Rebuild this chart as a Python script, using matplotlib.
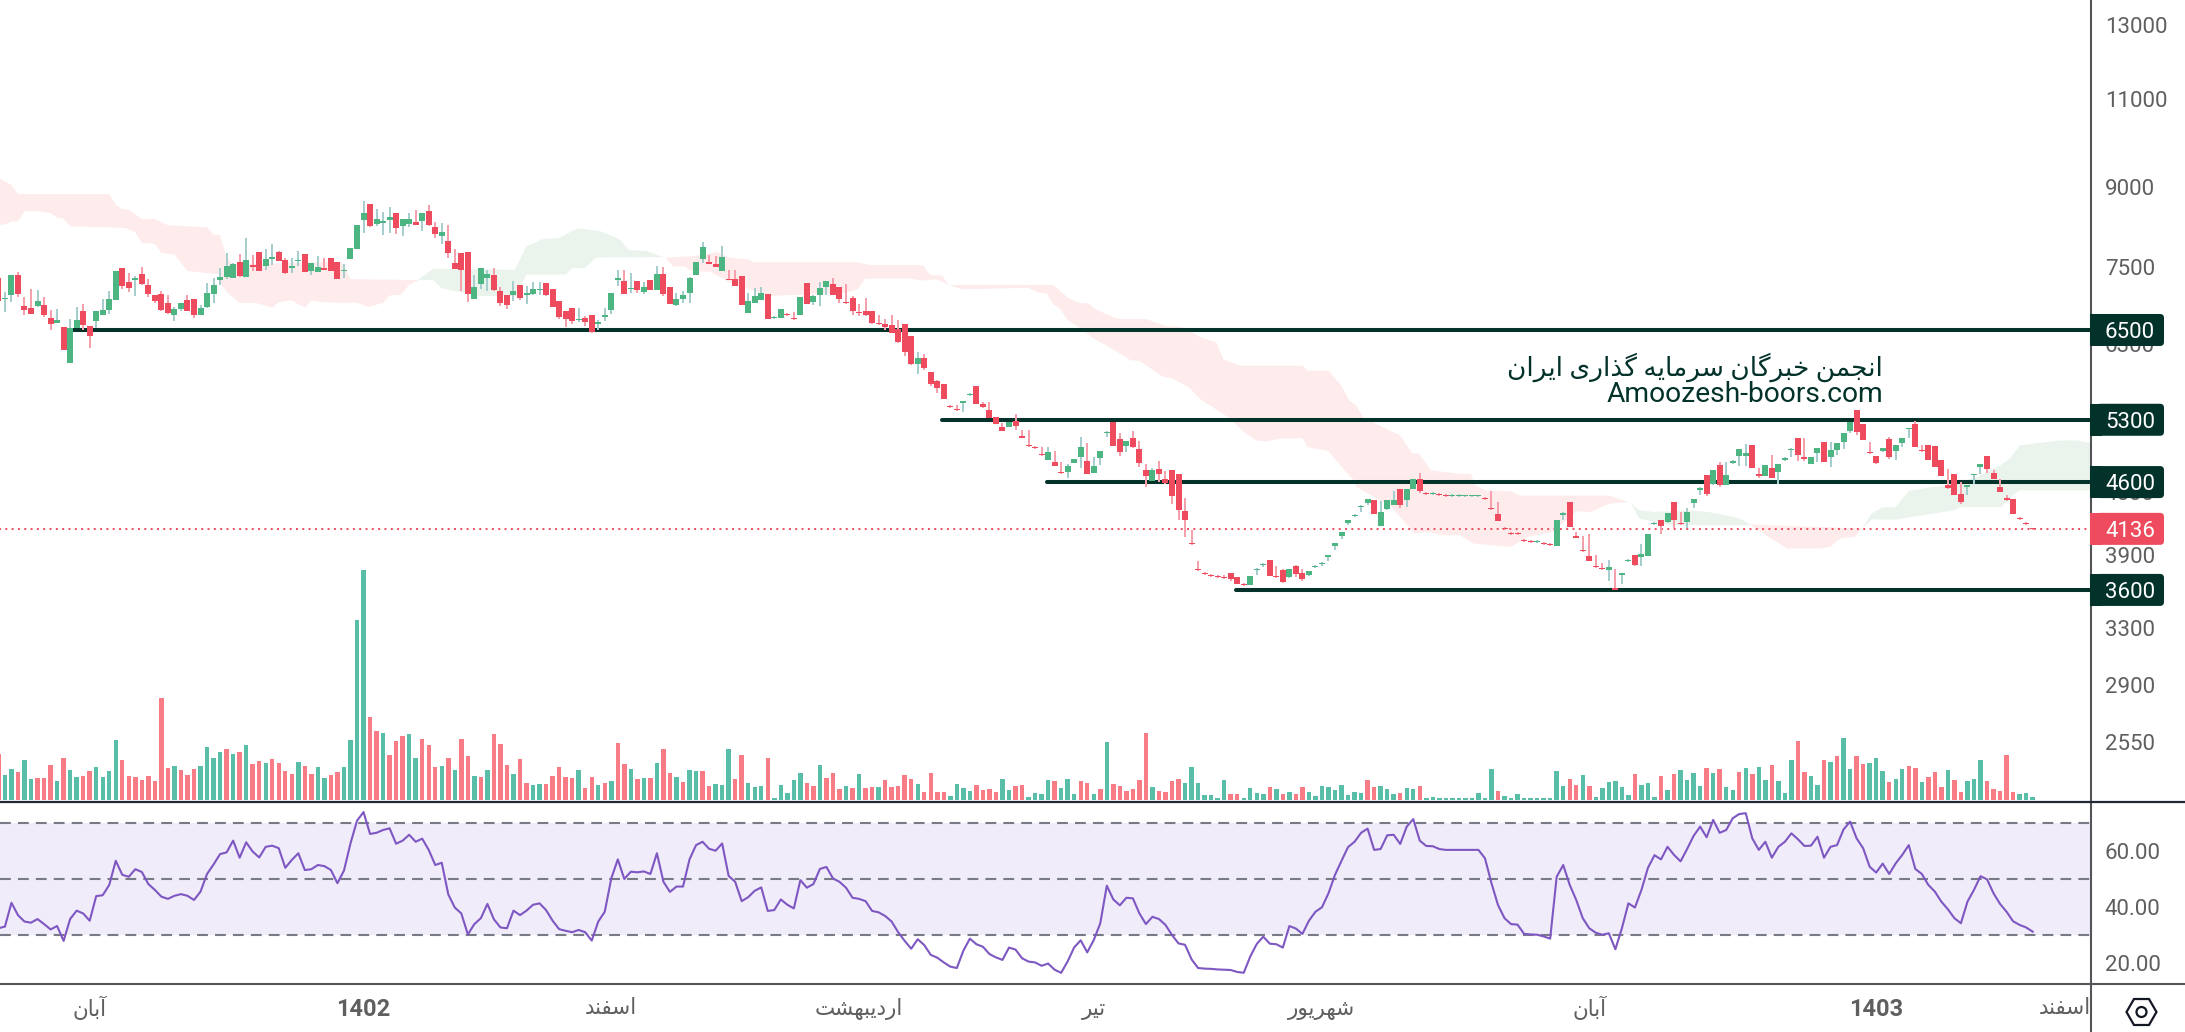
import numpy as np
import matplotlib
matplotlib.use("Agg")
import matplotlib.pyplot as plt
from matplotlib.lines import Line2D
from matplotlib.patches import FancyBboxPatch, Rectangle, RegularPolygon, Circle
from matplotlib.transforms import IdentityTransform

plt.rcParams["font.family"] = ["Roboto", "DejaVu Sans"]

W, H = 2185, 1032

# candles, one row per ten bars
opens = [
    7323, 6971, 7034, 7373, 6862, 6832, 6862, 6878, 6680, 6605,
    6546, 6030, 6531, 6786, 6561, 6635, 6726, 6801, 6955, 7490,
    7242, 7274, 7390, 7194, 7034, 7050, 6909, 6726, 6816, 6955,
    6971, 6726, 6847, 7050, 7274, 7340, 7323, 7591, 7340, 7540,
    7764, 7524, 7643, 7764, 7626, 7490, 7608, 7729, 7439, 7423,
    7490, 7660, 7591, 7439, 7643, 7817, 8342, 8648, 8267, 8286,
    8342, 8474, 8230, 8267, 8305, 8323, 8512, 8212, 8048, 7958,
    7574, 7747, 7764, 6971, 7210, 7323, 7373, 7097, 7034, 7034,
    7194, 7034, 7050, 7113, 7226, 7130, 6940, 6786, 6832, 6650,
    6680, 6726, 6590, 6695, 6801, 7274, 7258, 7130, 7258, 7082,
    7274, 7113, 7390, 7162, 6878, 6971, 7066, 7373, 7643, 7591,
    7557, 7439, 7307,
    7300, 7345, 6757, 6916, 6964, 7060, 6681, 6681, 6742, 6681,
    6727, 7235, 6932, 7043, 7171, 7220, 7171, 6932, 6995, 6772,
    6787, 6787, 6606, 6591, 6576, 6517, 6591, 6415, 6019, 6102,
    5911, 5792, 5753, 5474, 5437, 5511, 5612, 5727, 5499, 5424,
    5339, 5208, 5208, 5291, 5103, 5000, 4977, 4899, 4833, 4811,
    4703, 4703, 4800, 4866, 4822, 4692, 4855, 5138, 5279, 5068,
    4988, 5080, 4955, 4724, 4608, 4735, 4629, 4724, 4682, 4305,
    4005, 3775, 3741, 3724, 3717, 3708, 3741, 3708, 3649, 3641,
    3767, 3810, 3853, 3717, 3767, 3708, 3801, 3741, 3724, 3793,
    3818, 3883, 3978, 4069, 4190, 4257, 4345, 4384, 4414, 4162,
    4325, 4364, 4525, 4414, 4525, 4629, 4485, 4475, 4475, 4465,
    4455, 4455, 4455, 4455, 4452, 4433, 4333, 4275, 4141, 4094,
    4094, 4030, 4021, 4012, 4003, 3994, 3976, 4265, 4392, 4067,
    3940, 3887, 3799, 3782, 3765, 3615, 3723, 3843, 3896, 3878,
    3887, 4179, 4217, 4198, 4392, 4188, 4198, 4382, 4523, 4670,
    4575, 4787, 4565, 4809, 4886, 4886, 5009, 4680, 4659, 4755,
    4712, 4842, 4952, 5089, 4875, 4798, 4919, 5043, 4875, 4952,
    5043, 5170, 5422, 5253, 4930, 4886, 4941, 5078, 4941, 5032,
    5193, 5253, 4952, 5009, 4998, 4842, 4565, 4680, 4473, 4554,
    4670, 4765, 4886, 4701, 4544, 4433, 4423, 4236, 4188, 4141,
]
highs = [
    7323, 7087, 7373, 7423, 7008, 7130, 7113, 7008, 6801, 6816,
    6546, 6665, 6847, 6893, 6561, 6786, 6971, 7097, 7439, 7490,
    7406, 7356, 7507, 7307, 7034, 7097, 7034, 6847, 6909, 7034,
    6971, 6878, 7226, 7323, 7490, 7747, 7574, 7729, 8012, 7712,
    7764, 7817, 7905, 7781, 7660, 7660, 7781, 7729, 7574, 7695,
    7660, 7660, 7591, 7557, 7834, 8249, 8706, 8648, 8552, 8493,
    8590, 8474, 8361, 8474, 8532, 8474, 8629, 8305, 8286, 8249,
    7817, 7747, 7764, 7373, 7490, 7456, 7490, 7162, 7034, 7258,
    7194, 7178, 7242, 7242, 7226, 7130, 6940, 6786, 6832, 6832,
    6711, 6726, 6650, 6832, 7066, 7456, 7456, 7406, 7258, 7242,
    7274, 7524, 7507, 7162, 7066, 7097, 7340, 7591, 7940, 7712,
    7695, 7870, 7456,
    7450, 7345, 7075, 7155, 7171, 7060, 6712, 6818, 6757, 6772,
    7011, 7235, 7043, 7250, 7265, 7315, 7171, 7220, 7027, 6901,
    6995, 6787, 6727, 6666, 6727, 6651, 6591, 6415, 6186, 6158,
    5911, 5805, 5753, 5486, 5486, 5536, 5637, 5727, 5524, 5524,
    5339, 5267, 5279, 5376, 5173, 5173, 4988, 4977, 4977, 4932,
    4811, 4789, 4844, 5091, 5022, 4866, 4932, 5161, 5279, 5138,
    5045, 5161, 5045, 4789, 4746, 4822, 4714, 4724, 4682, 4434,
    4124, 3845, 3750, 3733, 3724, 3724, 3741, 3708, 3657, 3717,
    3784, 3827, 3853, 3801, 3775, 3775, 3810, 3775, 3758, 3810,
    3836, 3897, 4005, 4106, 4219, 4276, 4364, 4424, 4414, 4404,
    4414, 4505, 4525, 4525, 4629, 4692, 4495, 4495, 4485, 4475,
    4475, 4475, 4470, 4470, 4470, 4443, 4503, 4392, 4150, 4103,
    4103, 4039, 4030, 4030, 4012, 4003, 4217, 4295, 4392, 4103,
    4067, 4085, 3896, 3825, 3851, 3774, 3740, 3860, 3896, 3994,
    4085, 4198, 4217, 4285, 4392, 4295, 4333, 4423, 4544, 4670,
    4723, 4820, 4820, 4842, 4964, 5021, 5009, 4755, 4787, 4897,
    4798, 4875, 4975, 5089, 5089, 4875, 4975, 5043, 5043, 5032,
    5147, 5276, 5422, 5253, 5043, 4886, 4975, 5101, 5009, 5089,
    5205, 5288, 5009, 5009, 4998, 4842, 4744, 4680, 4596, 4565,
    4680, 4798, 4886, 4723, 4628, 4463, 4423, 4246, 4198, 4141,
]
lows = [
    6940, 6776, 6930, 7008, 6726, 6741, 6842, 6700, 6502, 6605,
    6216, 6030, 6531, 6502, 6245, 6531, 6726, 6741, 6955, 7130,
    7082, 7018, 7194, 7008, 6909, 6786, 6741, 6635, 6786, 6786,
    6680, 6726, 6832, 6909, 7194, 7291, 7323, 7340, 7340, 7439,
    7439, 7456, 7540, 7608, 7390, 7406, 7524, 7423, 7373, 7423,
    7456, 7439, 7291, 7323, 7643, 7817, 8102, 8212, 8230, 8066,
    8102, 8084, 8048, 8212, 8249, 8139, 8230, 8012, 7905, 7660,
    7473, 7097, 6924, 6971, 7130, 7097, 7097, 6862, 6816, 6940,
    6955, 6893, 7034, 7034, 7018, 6847, 6665, 6546, 6590, 6620,
    6561, 6458, 6502, 6635, 6741, 7178, 7050, 7066, 7066, 7050,
    7113, 7113, 7018, 6893, 6862, 6909, 6909, 7373, 7574, 7557,
    7507, 7439, 7274,
    7187, 6879, 6757, 6916, 6964, 6666, 6666, 6681, 6712, 6651,
    6727, 6901, 6879, 6864, 7043, 7043, 6916, 6895, 6727, 6712,
    6712, 6591, 6576, 6502, 6458, 6313, 6130, 6006, 5885, 5938,
    5727, 5637, 5561, 5449, 5412, 5400, 5599, 5499, 5449, 5327,
    5255, 5161, 5208, 5173, 5080, 4977, 4955, 4877, 4833, 4767,
    4682, 4640, 4800, 4746, 4682, 4692, 4778, 5091, 4988, 4877,
    4921, 4966, 4757, 4546, 4608, 4598, 4577, 4374, 4218, 4063,
    3987, 3758, 3724, 3708, 3699, 3691, 3674, 3649, 3633, 3641,
    3724, 3793, 3717, 3699, 3657, 3699, 3708, 3674, 3717, 3784,
    3801, 3845, 3942, 4041, 4171, 4247, 4296, 4364, 4276, 4162,
    4315, 4364, 4335, 4345, 4525, 4485, 4465, 4465, 4455, 4445,
    4445, 4445, 4448, 4448, 4446, 4413, 4314, 4207, 4122, 4076,
    4076, 4012, 4003, 4003, 3985, 3976, 3976, 4217, 4150, 4049,
    3922, 3843, 3782, 3765, 3672, 3598, 3648, 3835, 3799, 3799,
    3887, 4169, 4085, 4188, 4141, 4169, 4141, 4333, 4463, 4453,
    4565, 4544, 4565, 4798, 4776, 4776, 4755, 4638, 4659, 4638,
    4575, 4831, 4875, 4831, 4831, 4798, 4820, 4820, 4765, 4897,
    4964, 5147, 5124, 5066, 4908, 4798, 4930, 4853, 4842, 4986,
    5089, 4986, 4930, 4842, 4765, 4659, 4530, 4463, 4372, 4463,
    4585, 4680, 4691, 4628, 4493, 4402, 4275, 4217, 4169, 4122,
]
closes = [
    6940, 6987, 7373, 7050, 6801, 6741, 6940, 6726, 6590, 6650,
    6216, 6531, 6650, 6575, 6414, 6786, 6801, 6971, 7439, 7178,
    7146, 7323, 7210, 7050, 6940, 6801, 6756, 6816, 6909, 6786,
    6726, 6832, 7066, 7194, 7340, 7524, 7557, 7356, 7626, 7507,
    7439, 7643, 7677, 7608, 7406, 7524, 7626, 7423, 7574, 7507,
    7456, 7439, 7307, 7456, 7834, 8249, 8474, 8230, 8361, 8323,
    8399, 8193, 8361, 8361, 8249, 8474, 8249, 8084, 8120, 7747,
    7473, 7456, 7050, 7162, 7490, 7390, 7113, 6909, 6878, 7097,
    6987, 7066, 7130, 7130, 7034, 6847, 6695, 6665, 6635, 6665,
    6620, 6472, 6620, 6726, 7066, 7323, 7050, 7146, 7113, 7162,
    7113, 7390, 7050, 6893, 6971, 7034, 7323, 7591, 7852, 7557,
    7507, 7677, 7274,
    7187, 6879, 6947, 7027, 7075, 6666, 6697, 6818, 6727, 6666,
    7011, 6901, 7027, 7155, 7265, 7043, 6980, 6916, 6787, 6757,
    6727, 6606, 6591, 6547, 6458, 6328, 6186, 6019, 6102, 5965,
    5753, 5701, 5561, 5461, 5424, 5536, 5624, 5499, 5461, 5327,
    5255, 5161, 5279, 5220, 5080, 4988, 4966, 4888, 4921, 4767,
    4692, 4767, 4844, 4977, 4682, 4767, 4932, 5149, 4988, 4921,
    5045, 4977, 4800, 4661, 4724, 4682, 4587, 4454, 4315, 4218,
    3996, 3767, 3733, 3717, 3708, 3699, 3691, 3649, 3641, 3717,
    3775, 3818, 3717, 3708, 3666, 3775, 3733, 3691, 3758, 3801,
    3827, 3897, 4005, 4106, 4219, 4266, 4354, 4424, 4276, 4296,
    4414, 4414, 4364, 4525, 4629, 4505, 4475, 4485, 4465, 4455,
    4465, 4465, 4462, 4462, 4462, 4423, 4324, 4207, 4132, 4085,
    4085, 4021, 4012, 4021, 3994, 3985, 4217, 4285, 4150, 4049,
    3931, 3843, 3791, 3774, 3791, 3598, 3740, 3851, 3808, 3904,
    4085, 4188, 4160, 4285, 4217, 4179, 4295, 4423, 4534, 4473,
    4723, 4565, 4670, 4831, 4964, 4919, 4755, 4659, 4787, 4648,
    4798, 4864, 4964, 4897, 4853, 4875, 4975, 4820, 4952, 5032,
    5147, 5276, 5159, 5066, 4919, 4809, 4975, 4875, 5009, 5089,
    5205, 4986, 4941, 4842, 4765, 4659, 4541, 4463, 4392, 4565,
    4680, 4798, 4744, 4628, 4493, 4413, 4275, 4227, 4179, 4136,
]

# volume (no scale on the chart, relative units) and its colour, bar by bar
volume = [
    138, 75, 93, 84, 120, 63, 66, 66, 105, 57,
    126, 90, 69, 72, 87, 99, 69, 87, 180, 120,
    72, 69, 60, 72, 57, 306, 96, 102, 90, 75,
    93, 102, 159, 126, 144, 153, 138, 144, 165, 108,
    117, 111, 123, 111, 87, 78, 114, 102, 78, 99,
    66, 75, 84, 99, 180, 540, 690, 249, 207, 201,
    135, 177, 192, 198, 126, 183, 165, 99, 102, 126,
    90, 183, 132, 72, 69, 90, 198, 168, 105, 78,
    123, 51, 45, 48, 48, 72, 99, 69, 66, 90,
    36, 69, 45, 51, 57, 171, 108, 93, 63, 66,
    66, 111, 153, 81, 69, 54, 90, 87, 87, 42,
    48, 45, 153, 63, 135, 51, 39, 42, 126, 6,
    45, 21, 60, 81, 51, 42, 105, 66, 81, 33,
    42, 36, 78, 36, 39, 39, 60, 39, 42, 75,
    63, 48, 24, 81, 24, 24, 12, 48, 36, 27,
    45, 30, 33, 24, 63, 30, 42, 45, 9, 21,
    18, 60, 57, 36, 63, 18, 57, 51, 18, 33,
    174, 48, 42, 27, 33, 60, 201, 39, 27, 24,
    57, 63, 51, 99, 51, 15, 15, 6, 60, 18,
    18, 6, 36, 21, 18, 39, 33, 18, 24, 18,
    39, 24, 12, 42, 39, 30, 45, 15, 24, 21,
    60, 39, 42, 33, 18, 21, 36, 33, 42, 6,
    9, 6, 6, 6, 6, 6, 6, 21, 6, 93,
    27, 12, 6, 18, 6, 6, 6, 6, 6, 87,
    42, 63, 45, 75, 42, 9, 36, 54, 57, 39,
    15, 78, 45, 51, 9, 72, 30, 78, 90, 60,
    81, 42, 96, 81, 93, 39, 30, 84, 96, 78,
    99, 60, 105, 57, 21, 120, 177, 84, 72, 45,
    120, 114, 132, 186, 93, 132, 108, 111, 126, 87,
    54, 63, 93, 102, 96, 54, 69, 84, 39, 90,
    60, 24, 57, 63, 120, 57, 33, 27, 135, 24,
    18, 21, 9,
]
volume_colour = (
    "rggrggrrrg" "rggrrggggr" "rrrrrrrgrr" "rggggrgrgr" "rgrrrrgrrg"
    "grrggggrrg" "rrrggrrrgr" "grrgrgrrrg" "rrggrrrrrg" "rrgrgrrgrg"
    "rgrrgrggrr" "gggrrgggrg" "ggggrrgrrr" "grgrrgrrrr" "rgrrrrgggg"
    "rrrrggrrgg" "ggrgggrrgr" "grrrrrrgrr" "rrgggggggr" "rggggrgrgr"
    "rggggggggg" "rrgggrggrg" "gggggggggg" "rggggggggg" "grrgrggggg"
    "grgggrgrgg" "ggrgrggrgr" "ggrgggrrgg" "rgrggrrggg" "rggrrgrrrg"
    "rrgggrrrrr" "ggg"
)

rsi = [
    32.4, 33.0, 41.5, 37.1, 34.8, 34.4, 35.7, 33.9, 32.0, 33.2,
    27.9, 35.7, 38.7, 37.7, 35.1, 43.9, 44.2, 47.9, 56.5, 51.5,
    50.8, 53.5, 52.5, 48.2, 46.1, 43.7, 42.9, 44.0, 44.6, 44.0,
    42.5, 45.5, 51.8, 55.2, 58.9, 59.5, 63.7, 57.6, 63.1, 59.8,
    57.7, 61.5, 61.9, 61.0, 54.0, 56.8, 59.2, 53.2, 53.5, 55.0,
    54.6, 53.2, 48.5, 53.0, 62.7, 70.8, 73.9, 66.1, 66.5, 67.5,
    68.1, 62.6, 63.7, 65.8, 63.3, 64.4, 60.4, 55.0, 55.8, 44.5,
    39.8, 37.7, 30.2, 33.9, 36.0, 41.1, 35.6, 32.7, 32.4, 38.7,
    37.1, 38.7, 40.8, 41.3, 38.9, 35.1, 32.1, 31.5, 31.0, 31.8,
    31.0, 28.0, 34.8, 38.3, 50.2, 57.0, 50.0, 52.6, 52.4, 52.7,
    51.8, 59.2, 49.0, 45.4, 47.3, 47.3, 57.0, 62.1, 63.3, 60.8,
    60.1, 62.7, 51.1,
    49.0, 42.1, 43.5, 45.8, 47.0, 38.6, 38.9, 42.7, 40.8, 39.5,
    49.6, 46.9, 48.2, 53.6, 54.3, 50.2, 49.0, 46.9, 43.3, 42.9,
    42.1, 38.6, 38.1, 36.8, 34.8, 31.0, 27.9, 25.1, 28.5, 26.4,
    22.9, 21.9, 20.2, 18.7, 18.2, 24.4, 28.7, 26.7, 25.8, 23.2,
    22.0, 21.1, 25.5, 24.8, 21.7, 20.5, 20.2, 19.0, 19.8, 17.6,
    16.5, 20.6, 25.6, 28.1, 23.8, 28.2, 34.2, 47.6, 42.7, 40.6,
    43.3, 43.1, 37.7, 33.9, 36.5, 35.7, 33.6, 30.0, 27.0, 26.5,
    21.3, 18.2, 18.0, 17.9, 17.7, 17.6, 17.5, 16.8, 16.5, 22.3,
    26.8, 29.4, 26.9, 26.7, 25.5, 33.2, 32.3, 30.4, 35.1, 38.3,
    39.9, 44.9, 51.5, 56.5, 61.4, 63.3, 66.5, 68.0, 60.4, 60.7,
    65.6, 65.8, 62.5, 68.7, 71.4, 63.7, 61.8, 61.7, 60.7, 60.4,
    60.4, 60.4,
    60.4, 60.4, 60.4, 57.4, 48.5, 40.7, 36.0, 33.9, 33.7, 30.4,
    30.2, 30.1, 29.5, 28.7, 50.8, 55.0, 47.9, 42.5, 36.0, 32.4,
    30.8, 30.1, 30.6, 24.9, 32.4, 41.3, 39.8, 46.1, 54.0, 58.5,
    57.0, 61.5, 58.6, 56.3, 60.7, 65.4, 68.7, 64.9, 71.1, 66.5,
    67.5, 71.7, 73.2, 73.5, 64.5, 60.4, 63.3, 57.6, 61.5, 63.3,
    66.3, 64.2, 61.8, 61.9, 65.1, 57.6, 61.5, 62.1, 67.7, 70.5,
    64.5, 61.0, 54.4, 52.3, 55.5, 51.8, 55.6, 58.6, 62.1, 53.6,
    51.8, 47.9, 45.5, 41.9, 39.2, 36.0, 34.2, 41.9, 46.1, 51.0,
    49.9, 44.9, 41.1, 38.3, 34.9, 33.6, 32.7, 31.2,
]

# ichimoku cloud outline, bar position and price for each edge
red1_top_i = [0, 2, 3, 17, 18, 19, 20, 22, 24, 26, 29, 32, 33, 34, 35, 36, 51, 52.75, 54, 64.5]
red1_top = [9179, 9042, 8853, 8853, 8641, 8557, 8544, 8366, 8366, 8246, 8227, 8208, 8073, 8061, 7658, 7543, 7590, 7573, 7297, 7280]
red1_bot_i = [0, 1, 2, 3, 4, 6, 8, 9, 10, 11, 17, 19.5, 21, 22, 24, 25, 27, 29, 34, 34.2, 35, 37, 39.5, 42, 43, 45, 46, 47, 48, 49.5, 51.7, 54.9, 56.7, 59, 60, 61.7, 63, 64.5]
red1_bot = [8259, 8259, 8321, 8321, 8512, 8512, 8480, 8386, 8373, 8227, 8208, 8195, 8116, 7923, 7905, 7744, 7716, 7431, 7376, 7205, 7090, 6912, 6912, 6839, 6922, 6955, 6890, 6839, 6950, 6928, 6915, 6915, 6852, 6912, 7030, 7040, 7205, 7280]

green1_top_i = [64.5, 66.7, 79.2, 81, 83.5, 86, 88.8, 92.4, 95.25, 96.7, 99.5, 102]
green1_top = [7297, 7470, 7452, 7866, 7990, 8013, 8190, 8134, 7990, 7795, 7777, 7671]
green1_bot_i = [64.5, 66.7, 68, 73.8, 79.5, 81, 87, 88, 89.9, 91.7, 102]
green1_bot = [7280, 7280, 7145, 7022, 7022, 7373, 7373, 7480, 7480, 7665, 7671]

red2_top_i = [102.4, 106.7, 110.2, 112.2, 115, 115.8, 131.8, 133.6, 141.8, 142.9, 144.7, 145.8, 161.8, 164, 165.8, 167.2, 168.3, 171.5, 176.1, 179, 181.5, 184.7, 186.8, 187.9, 190.4, 200, 200.8, 204, 205.8, 207.2, 208.3, 209.3, 211.8, 215, 216.8, 217.9, 219.7, 224.2, 225.8, 226.6, 228, 232, 233.4, 247, 250]
red2_top = [7660, 7690, 7760, 7660, 7630, 7584, 7584, 7532, 7532, 7363, 7358, 7199, 7199, 6997, 6911, 6906, 6813, 6669, 6661, 6561, 6546, 6381, 6320, 6077, 5993, 5993, 5925, 5925, 5749, 5536, 5473, 5331, 5231, 5115, 4914, 4906, 4724, 4688, 4687, 4565, 4513, 4506, 4462, 4462, 4396]
red2_bot_i = [102.4, 103.5, 105.25, 106.3, 109.2, 112.2, 114.3, 118.6, 121.5, 125, 130, 131.8, 132.9, 139.7, 141.5, 144, 145.8, 147.9, 157.9, 159.3, 160.8, 161.8, 162.9, 164, 165.4, 167.9, 170, 172.2, 173.6, 175, 176.5, 178.6, 180, 182.6, 184.3, 188.6, 190.8, 192.9, 194.3, 196.5, 200, 200.8, 204, 205.8, 207.9, 208.3, 213.6, 217.2, 219.3, 221.5, 224.2, 226.2, 229, 232, 234.5, 238.4, 242, 244.2, 247, 250]
red2_bot = [7650, 7510, 7510, 7431, 7420, 7240, 7155, 7022, 7037, 7048, 7075, 7129, 7303, 7309, 7275, 7293, 7199, 7129, 7155, 7085, 7059, 6890, 6813, 6645, 6561, 6379, 6270, 6153, 6070, 6060, 5970, 5844, 5823, 5705, 5557, 5331, 5172, 5057, 5045, 5076, 5083, 4980, 4936, 4779, 4618, 4549, 4349, 4093, 4109, 4077, 4077, 4000, 3985, 3970, 4061, 4106, 4304, 4297, 4379, 4396]

green2_top_i = [250.3, 251.7, 253.9, 259.3, 262.2, 265, 267.2, 268.6]
green2_top = [4389, 4314, 4298, 4314, 4298, 4265, 4233, 4176]
green2_bot_i = [250.3, 251.7, 256.4, 268.6]
green2_bot = [4389, 4233, 4170, 4170]

red3_top_i = [268.6, 285.8]
red3_top = [4176, 4140]
red3_bot_i = [268.6, 271.5, 274.4, 279.4, 281, 282.5, 284.8, 285.8]
red3_bot = [4176, 4061, 3955, 3956, 3971, 4047, 4062, 4140]

green3_top_i = [285.8, 287.3, 288.9, 291, 293, 296, 298.8, 303.4, 307, 308.5, 310, 312, 316.2, 318.8, 321]
green3_top = [4140, 4283, 4342, 4347, 4508, 4543, 4566, 4653, 4778, 4851, 4999, 5018, 5056, 5056, 5025]
green3_bot_i = [285.8, 287.3, 291, 300, 300.9, 307.2, 309, 310, 321]
green3_bot = [4140, 4225, 4225, 4315, 4347, 4347, 4464, 4515, 4515]

# drawn support / resistance levels and the bar each one starts from
levels = [6500, 5300, 4600, 3600]
level_start = [11.3, 144.7, 160.8, 189.8]
last_price = 4136

price_ticks = [13000, 11000, 9000, 7500, 6300, 4500, 3900, 3300, 2900, 2550]
rsi_ticks = [60, 40, 20]
month_i = [14, 56, 94, 132, 168, 203, 244, 288, 317]
month_labels = ["آبان", "1402", "اسفند", "اردیبهشت", "تیر", "شهریور", "آبان", "1403", "اسفند"]

DARK = "#03322b"
RED = "#ee4c5e"
GREEN = "#4db582"
AXIS = "#555559"
TICK = "#5f5f5f"

# presentation forms: isolated, final, initial, medial
FORMS = {
    "ا": (0xFE8D, 0xFE8E), "آ": (0xFE81, 0xFE82), "د": (0xFEA9, 0xFEAA),
    "ذ": (0xFEAB, 0xFEAC), "ر": (0xFEAD, 0xFEAE), "و": (0xFEED, 0xFEEE),
    "ب": (0xFE8F, 0xFE90, 0xFE91, 0xFE92), "ت": (0xFE95, 0xFE96, 0xFE97, 0xFE98),
    "ج": (0xFE9D, 0xFE9E, 0xFE9F, 0xFEA0), "خ": (0xFEA5, 0xFEA6, 0xFEA7, 0xFEA8),
    "س": (0xFEB1, 0xFEB2, 0xFEB3, 0xFEB4), "ش": (0xFEB5, 0xFEB6, 0xFEB7, 0xFEB8),
    "ف": (0xFED1, 0xFED2, 0xFED3, 0xFED4), "م": (0xFEE1, 0xFEE2, 0xFEE3, 0xFEE4),
    "ن": (0xFEE5, 0xFEE6, 0xFEE7, 0xFEE8), "ه": (0xFEE9, 0xFEEA, 0xFEEB, 0xFEEC),
    "ی": (0xFBFC, 0xFBFD, 0xFBFE, 0xFBFF), "گ": (0xFB92, 0xFB93, 0xFB94, 0xFB95),
}


def fa(text):
    """matplotlib does no Arabic shaping, so pick the joined forms and flip the order."""
    if text.isdigit():
        return text
    out = []
    for k, c in enumerate(text):
        if c not in FORMS:
            out.append(c)
            continue
        f = FORMS[c]
        after = k > 0 and text[k - 1] in FORMS and len(FORMS[text[k - 1]]) == 4
        before = k + 1 < len(text) and text[k + 1] in FORMS
        if len(f) == 4 and before:
            out.append(chr(f[3] if after else f[2]))
        else:
            out.append(chr(f[1] if after else f[0]))
    return "".join(reversed(out))


fig = plt.figure(figsize=(W / 100, H / 100), dpi=100, facecolor="white")
pane_w = 2091 / W
ax = fig.add_axes([0, 1 - 801 / H, pane_w, 801 / H])
ax_vol = fig.add_axes([0, 1 - 801 / H, pane_w, 801 / H], sharex=ax)
ax_rsi = fig.add_axes([0, 1 - 984 / H, pane_w, 182 / H], sharex=ax)
ax_vol.set_zorder(0)
ax.set_zorder(1)
ax.patch.set_alpha(0)

x = np.arange(len(closes))
o, h, l, c = map(np.array, (opens, highs, lows, closes))
up = c >= o

# volume first, it sits under the price pane
ax_vol.bar(x, volume, width=0.68, linewidth=0,
           color=["#58bea8" if s == "g" else "#f87c86" for s in volume_colour])
ax_vol.set_ylim(-3, 2400)
ax_vol.axis("off")

# cloud
clouds = [
    (red1_top_i, red1_top, red1_bot_i, red1_bot, "#feecec"),
    (green1_top_i, green1_top, green1_bot_i, green1_bot, "#ebf4ec"),
    (red2_top_i, red2_top, red2_bot_i, red2_bot, "#feecec"),
    (green2_top_i, green2_top, green2_bot_i, green2_bot, "#ebf4ec"),
    (red3_top_i, red3_top, red3_bot_i, red3_bot, "#feecec"),
    (green3_top_i, green3_top, green3_bot_i, green3_bot, "#ebf4ec"),
]
for ti, tp, bi, bp, col in clouds:
    ax.fill(list(ti) + list(bi)[::-1], list(tp) + list(bp)[::-1],
            color=col, lw=0, zorder=1)

for lvl, start in zip(levels, level_start):
    ax.plot([start, 330], [lvl, lvl], color=DARK, lw=2.9,
            solid_capstyle="round", zorder=2)
ax.plot([-5, 330], [last_price, last_price], color=RED, lw=1.4,
        ls=(0, (1, 2.25)), zorder=2)

ax.vlines(x[up], l[up], h[up], color="#a7cdcc", lw=1.44, zorder=3)
ax.vlines(x[~up], l[~up], h[~up], color="#f6a0ab", lw=1.44, zorder=3)
ax.bar(x[up], (c - o)[up], bottom=o[up], width=0.92, color=GREEN, lw=0, zorder=4)
ax.bar(x[~up], (o - c)[~up], bottom=c[~up], width=0.92, color=RED, lw=0, zorder=4)

ax.set_yscale("log")
ax.set_ylim(2228, 13762)
ax.set_xlim(0.245, 320.95)
ax.minorticks_off()
ax.yaxis.tick_right()
ax.set_yticks(price_ticks)
ax.set_yticklabels([str(t) for t in price_ticks], va="center_baseline")
ax.tick_params(axis="y", length=0, pad=10, labelsize=16, labelcolor=TICK)
ax.tick_params(axis="x", length=0, labelbottom=False)
for s in ax.spines.values():
    s.set_visible(False)

# rsi pane
ax_rsi.axhspan(30, 70, color="#f0ecf9", lw=0, zorder=1)
for lvl in (30, 50, 70):
    ax_rsi.axhline(lvl, color="#787b86", lw=1.5, dashes=(5.2, 3.4), zorder=2)
ax_rsi.plot(x, rsi, color="#7e57c2", lw=1.5, zorder=3)
ax_rsi.set_ylim(12.5, 77.5)
ax_rsi.yaxis.tick_right()
ax_rsi.set_yticks(rsi_ticks)
ax_rsi.set_yticklabels([f"{t:.2f}" for t in rsi_ticks], va="center_baseline")
ax_rsi.tick_params(axis="y", length=0, pad=10, labelsize=16, labelcolor=TICK)
ax_rsi.set_xticks(month_i)
ax_rsi.set_xticklabels([fa(t) for t in month_labels])
ax_rsi.tick_params(axis="x", length=0, pad=18, labelsize=15.5, labelcolor=TICK)
for lab, name in zip(ax_rsi.get_xticklabels(), month_labels):
    lab.set_va("center")
    if name.isdigit():
        lab.set_fontweight("bold")
        lab.set_fontsize(17)
for s in ax_rsi.spines.values():
    s.set_visible(False)

# pane separators and the price scale edge
fig.add_artist(Line2D([pane_w, pane_w], [0, 1], color=AXIS, lw=1.5))
fig.add_artist(Line2D([0, 1], [1 - 801.5 / H] * 2, color="#242836", lw=1.6))
fig.add_artist(Line2D([0, 1], [1 - 984 / H] * 2, color=AXIS, lw=1.5))

# price tags on the scale
fig.canvas.draw()
ident = IdentityTransform()
tags = [(lvl, DARK, str(lvl)) for lvl in levels] + [(last_price, RED, str(last_price))]
for lvl, col, txt in tags:
    ypx = ax.transData.transform((1, lvl))[1]
    fig.add_artist(FancyBboxPatch((2096, ypx - 16), 68, 32, transform=ident, fc=col, ec="none",
                                  boxstyle="round,pad=0,rounding_size=4", zorder=5))
    fig.add_artist(Rectangle((2090, ypx - 16), 12, 32, transform=ident, fc=col, ec="none", zorder=5))
    fig.text(2105, ypx, txt, transform=ident, color="white", fontsize=16,
             va="center_baseline", ha="left", zorder=6)

# settings icon
fig.add_artist(RegularPolygon((2141.5, H - 1012), 6, radius=15, orientation=np.pi / 6,
                              transform=ident, fc="none", ec="#131722", lw=1.6))
fig.add_artist(Circle((2141.5, H - 1012), 5, transform=ident, fc="none", ec="#131722", lw=1.6))

# watermark
fig.text(1883 / W, 1 - 367 / H, fa("انجمن خبرگان سرمایه گذاری ایران"), color=DARK,
         fontsize=19, ha="right", va="center")
fig.text(1883 / W, 1 - 394.5 / H, "Amoozesh-boors.com", color=DARK,
         fontsize=20.3, ha="right", va="center")

fig.savefig("out.png", dpi=100)
